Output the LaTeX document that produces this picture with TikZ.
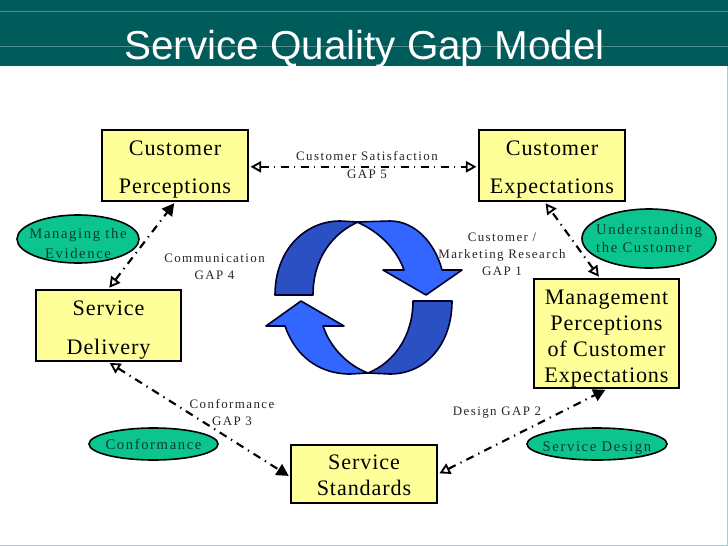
\documentclass[tikz,border=0pt]{standalone}
\usepackage{fontspec}
\usetikzlibrary{arrows.meta,shapes.geometric}
\setmainfont{Liberation Serif}
\newfontfamily\titlefont{Liberation Sans}
\newfontfamily\boxfont[LetterSpace=4]{Liberation Serif}
\newfontfamily\smallfont[LetterSpace=11]{Liberation Serif}
\newcommand{\boxstrut}[1]{\rule{0pt}{#1pt}}
\definecolor{headerteal}{HTML}{005C5A}
\definecolor{headerline}{HTML}{4F8C8C}
\definecolor{edgegray}{HTML}{B4C8CC}
\definecolor{boxyellow}{HTML}{FFFF99}
\definecolor{ovalgreen}{HTML}{0CC48E}
\definecolor{ovaltext}{HTML}{0A3A30}
\definecolor{arrowdark}{HTML}{2A50C4}
\definecolor{arrowlight}{HTML}{3366FF}
\tikzset{
  gapbox/.style={draw=black,line width=1.8pt,fill=boxyellow,inner sep=0pt,align=center,
    font=\boxfont\fontsize{16.6}{19.5}\selectfont},
  gapoval/.style={ellipse,draw=black,line width=1.2pt,fill=ovalgreen,inner xsep=-22pt,inner ysep=-5pt,align=center,
    text=ovaltext,font=\smallfont\fontsize{11}{13.5}\selectfont},
  gaplabel/.style={inner sep=0pt,align=center,text=black!85,
    font=\smallfont\fontsize{9.7}{12.8}\selectfont},
  gaparrow/.style={line width=1.6pt,dash pattern=on 6pt off 4pt on 1pt off 4pt,shorten <=1pt,shorten >=1pt},
  openfilled/.style={gaparrow,{Triangle[open,length=8pt,width=8.5pt,line width=1.4pt]}-{Triangle[length=9pt,width=9.5pt]}},
  openopen/.style={gaparrow,{Triangle[open,length=8pt,width=8.5pt,line width=1.4pt]}-{Triangle[open,length=8pt,width=8.5pt,line width=1.4pt]}},
  loopdark/.style={draw=black!85!blue,line width=1.2pt,fill=arrowdark,line join=round},
  looplight/.style={draw=black!85!blue,line width=1.2pt,fill=arrowlight,line join=round}
}
\begin{document}
\begin{tikzpicture}[x=0.75pt,y=-0.75pt]
 \useasboundingbox (0,0) rectangle (728,546);
 % page and header
 \fill[white] (0,0) rectangle (728,546);
 \fill[edgegray] (727,66) rectangle (728,546);
 \fill[edgegray] (0,545) rectangle (728,546);
 \fill[headerteal] (0,0) rectangle (728,66);
 \draw[headerline,line width=0.6pt] (0,11.5) -- (728,11.5);
 \draw[headerline,line width=0.6pt] (0,46.5) -- (728,46.5);
 \node[text=white,inner sep=0pt,font=\titlefont\fontsize{30.3}{36}\selectfont] (title) at (364.5,49) {Service Quality Gap Model};
 % circular arrows
 \filldraw[loopdark] (275,295) .. controls (275,250) and (305,221) .. (340,221) -- (358,222)
   .. controls (333,233) and (313,258) .. (313,295) -- cycle;
 \filldraw[looplight] (357,222) -- (390,221) .. controls (415,221) and (435,243) .. (442,270)
   -- (462,270) -- (426,295) -- (383,270) -- (404,270) .. controls (397,250) and (380,232) .. (357,222) -- cycle;
 \filldraw[loopdark] (413,301) -- (452,301) .. controls (452,345) and (425,374) .. (390,374) -- (368,373)
   .. controls (395,362) and (413,335) .. (413,301) -- cycle;
 \filldraw[looplight] (368,373) -- (350,374) .. controls (318,374) and (295,355) .. (285,326)
   -- (266,326) -- (301,301) -- (344,326) -- (323,326) .. controls (330,347) and (347,365) .. (368,373) -- cycle;
 % boxes
 \node[gapbox,minimum width=146pt*0.75,minimum height=71pt*0.75] (perceptions) at (175,165.5) {\boxstrut{17.5}Customer\\[9pt]Perceptions};
 \node[gapbox,minimum width=146pt*0.75,minimum height=71pt*0.75] (expectations) at (552,165.5) {\boxstrut{17.5}Customer\\[9pt]Expectations};
 \node[gapbox,minimum width=145pt*0.75,minimum height=71pt*0.75] (delivery) at (108.5,325.5) {\boxstrut{17.5}Service\\[9.5pt]Delivery};
 \node[gapbox,minimum width=145pt*0.75,minimum height=109pt*0.75] (management) at (606.5,333.5) {\boxstrut{19}Management\\Perceptions\\of Customer\\Expectations};
 \node[gapbox,minimum width=146pt*0.75,minimum height=58pt*0.75] (standards) at (364,474) {\boxstrut{13}Service\\Standards};
 % ovals
 \node[gapoval,minimum width=122pt*0.75,minimum height=48pt*0.75] (evidence) at (78,239) {\rule{0pt}{15pt}Managing the\\[1.5pt]Evidence};
 \node[gapoval,minimum width=134pt*0.75,minimum height=59pt*0.75,align=left] (understanding) at (649,238.5) {Understanding\\the Customer};
 \node[gapoval,minimum width=129pt*0.75,minimum height=32pt*0.75] (conformance) at (153.5,444) {Conformance};
 \node[gapoval,minimum width=140pt*0.75,minimum height=32pt*0.75] (design) at (597,444) {\rule{0pt}{13pt}Service Design};
 % gap connectors
 \draw[openopen] (perceptions.-1) -- (expectations.181);
 \draw[openfilled] (delivery.north) -- (perceptions.south);
 \draw[openfilled] (delivery.south) -- (standards.182);
 \draw[openfilled] (standards.east) -- (management.south);
 \draw[openopen] (management.97) -- (expectations.-101);
 % gap labels
 \node[gaplabel] (gapfive) at (367,165) {Customer Satisfaction\\GAP 5};
 \node[gaplabel] (gapfour) at (214.5,266.5) {Communication\\GAP 4};
 \node[gaplabel] (gapone) at (502,254.5) {Customer /\\Marketing Research\\GAP 1};
 \node[gaplabel] (gapthree) at (232,412.5) {Conformance\\GAP 3};
 \node[gaplabel] (gaptwo) at (497,412.5) {Design GAP 2};
\end{tikzpicture}
\end{document}
